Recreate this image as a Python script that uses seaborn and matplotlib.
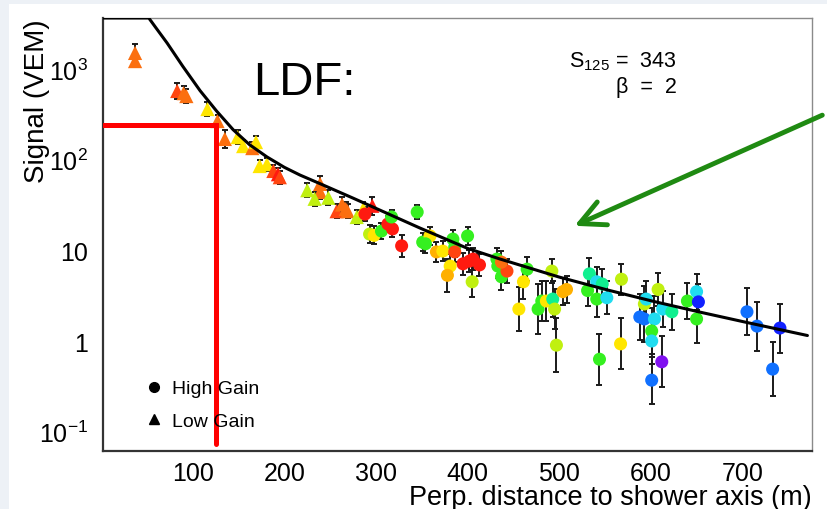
import numpy as np
import pandas as pd
import seaborn as sns
import matplotlib.pyplot as plt
from matplotlib.ticker import FixedLocator, MultipleLocator, LogLocator, NullFormatter
from matplotlib.lines import Line2D
from matplotlib.patches import Rectangle

# fitted LDF (clipped at the top of the frame)
curve_r = [2, 52, 60, 72, 89, 108, 126, 144, 162, 181, 200, 217, 240, 275, 300, 348,
           400, 435, 500, 552, 602, 653, 705, 771]
curve_s = [3640, 3640, 2818, 1928, 1072, 575, 343, 214, 146, 107, 82.2, 67.6, 53.7, 37.6,
           29.0, 17.6, 10.5, 8.04, 5.07, 3.67, 2.75, 2.09, 1.60, 1.15]

# low gain stations (triangles); err = half length of the error bar in decades
lg_r = [37, 37, 83, 93, 90, 116, 127, 135, 149, 155, 165, 169, 173, 181, 188, 193, 195,
        225, 239, 239, 233, 248, 257, 263, 267, 269, 279, 286, 296]
lg_s = [1500, 1220, 571, 502, 540, 361, 266, 169, 177, 141, 134, 156, 85, 89, 75, 69, 64,
        46, 54, 44, 37, 38, 27, 32, 28.5, 27, 23.3, 28.5, 31]
lg_err = [0.10, 0.06, 0.09, 0.08, 0.08, 0.08, 0.07, 0.10, 0.08, 0.07, 0.07, 0.07, 0.07, 0.07,
          0.07, 0.07, 0.07, 0.08, 0.09, 0.08, 0.08, 0.08, 0.08, 0.08, 0.08, 0.08, 0.08, 0.08, 0.10]
lg_col = ['orange', 'orange', 'redorange', 'orange', 'orange', 'yellow', 'orange', 'orange',
          'yellow', 'yellow', 'orange', 'yellow', 'yellow', 'yellow', 'redorange', 'red',
          'redorange', 'ygreen', 'orange', 'orange', 'ygreen', 'ygreen', 'redorange', 'orange',
          'orange', 'orange', 'ygreen', 'yellow', 'red']

# high gain stations (circles)
hg_r = [288, 293, 298, 306, 313, 318, 317, 328, 345, 351, 359, 354, 366, 373, 384, 386, 386,
        400, 395, 402, 406, 413, 381, 378, 405, 432, 433, 437, 443, 437, 465, 461, 456, 492,
        477, 481, 486, 493, 495, 497, 504, 508, 533, 531, 541, 541, 547, 552, 568, 544, 567,
        588, 593, 604, 593, 595, 601, 601, 601, 612, 608, 613, 623, 640, 650, 652, 650, 705,
        716, 741, 733]
hg_s = [25.1, 15.1, 14.6, 16.3, 19.5, 17.2, 23.3, 11.2, 26.4, 12.3, 14.4, 11.8, 9.6, 9.8, 13.3,
        10.9, 9.6, 14.4, 7.1, 7.6, 8.0, 6.9, 6.7, 5.3, 4.5, 8.0, 6.7, 5.1, 5.9, 7.4, 6.2, 4.5,
        2.25, 5.9, 2.25, 2.76, 2.76, 2.9, 2.25, 0.90, 3.5, 3.7, 5.5, 3.6, 2.9, 4.5, 4.25, 3.0,
        4.8, 0.63, 0.93, 1.84, 1.75, 1.75, 2.56, 2.9, 1.29, 1.0, 0.37, 0.59, 3.7, 2.25, 2.1,
        2.76, 3.5, 2.7, 1.75, 2.1, 1.46, 1.39, 0.49]
hg_err = [0.08, 0.10, 0.10, 0.09, 0.09, 0.09, 0.08, 0.12, 0.08, 0.10, 0.10, 0.10, 0.11, 0.11,
          0.10, 0.11, 0.11, 0.10, 0.12, 0.12, 0.12, 0.12, 0.13, 0.18, 0.17, 0.12, 0.13, 0.14,
          0.13, 0.12, 0.13, 0.19, 0.24, 0.13, 0.28, 0.22, 0.22, 0.20, 0.22, 0.30, 0.15, 0.15,
          0.17, 0.17, 0.20, 0.16, 0.17, 0.18, 0.17, 0.28, 0.28, 0.25, 0.25, 0.25, 0.20, 0.20,
          0.25, 0.25, 0.26, 0.28, 0.18, 0.20, 0.20, 0.20, 0.20, 0.20, 0.26, 0.26, 0.27, 0.27, 0.30]
hg_col = ['red', 'ygreen', 'yellow', 'green', 'red', 'red', 'green', 'red', 'green', 'green',
          'yellow', 'green', 'amber', 'yellow', 'green', 'green', 'redorange', 'green', 'red',
          'red', 'red', 'red', 'yellow', 'amber', 'ygreen', 'green', 'green', 'green',
          'redorange', 'orange', 'green', 'yellow', 'yellow', 'ygreen', 'green', 'green',
          'yellow', 'teal', 'ygreen', 'ygreen', 'amber', 'amber', 'teal', 'green', 'green',
          'cyan', 'teal', 'cyan', 'ygreen', 'green', 'yellow', 'blue', 'blue', 'cyan', 'ygreen',
          'cyan', 'green', 'cyan', 'blue', 'purple', 'ygreen', 'cyan', 'teal', 'green', 'cyan',
          'dblue', 'green', 'blue', 'blue', 'dblue', 'blue']

x_ticks = [100, 200, 300, 400, 500, 600, 700]
y_ticks = [0.1, 1, 10, 100, 1000]
y_ticklabels = ['10$^{-1}$', '1', '10', '10$^{2}$', '10$^{3}$']

palette = {'orange': '#fb6f10', 'redorange': '#ff4510', 'red': '#ff1a10', 'amber': '#ffb000',
           'yellow': '#ffe600', 'ygreen': '#c0f010', 'green': '#35f020', 'teal': '#10f090',
           'cyan': '#20dcf0', 'blue': '#1070ff', 'dblue': '#1020ff', 'purple': '#8010f0'}

sns.set_style('white')
plt.rcParams['font.family'] = ['Liberation Sans', 'DejaVu Sans']
plt.rcParams['mathtext.fontset'] = 'custom'
plt.rcParams['mathtext.rm'] = 'Liberation Sans'
plt.rcParams['mathtext.it'] = 'Liberation Sans:italic'
plt.rcParams['text.color'] = 'black'
plt.rcParams['axes.labelcolor'] = 'black'

lg = pd.DataFrame({'r': lg_r, 'S': lg_s, 'err': lg_err, 'col': lg_col})
hg = pd.DataFrame({'r': hg_r, 'S': hg_s, 'err': hg_err, 'col': hg_col})

fig = plt.figure(figsize=(8.28, 5.10), dpi=100, facecolor='#edf1f6')
fig.patches.append(Rectangle((9 / 828, 0), 1, 1 - 5 / 510, transform=fig.transFigure,
                             facecolor='white', edgecolor='none', zorder=-10))
ax = fig.add_axes([103 / 828, 58 / 510, 709 / 828, 433 / 510])
ax.set_yscale('log')

for d in (lg, hg):
    lo = d['S'] - d['S'] / 10 ** d['err']
    hi = d['S'] * 10 ** d['err'] - d['S']
    ax.errorbar(d['r'], d['S'], yerr=[lo, hi], fmt='none', ecolor='#1a1a1a',
                elinewidth=1.4, capsize=2.5, capthick=1.4, zorder=2)

sns.scatterplot(data=lg, x='r', y='S', hue='col', palette=palette, marker='^', s=105,
                linewidth=0, legend=False, ax=ax, zorder=3)
sns.scatterplot(data=hg, x='r', y='S', hue='col', palette=palette, marker='o', s=88,
                linewidth=0, legend=False, ax=ax, zorder=3)

ax.plot(curve_r, curve_s, color='black', lw=2.2, zorder=4)

# red guide lines at r = 125 m
ax.plot([2, 125, 125], [240, 240, 0.073], color='#ff0000', lw=3.6, zorder=5,
        solid_joinstyle='miter')

ax.set_xlim(2, 776)
ax.set_ylim(0.0613, 3640)
ax.xaxis.set_major_locator(FixedLocator(x_ticks))
ax.xaxis.set_minor_locator(MultipleLocator(20))
ax.set_yticks(y_ticks)
ax.set_yticklabels(y_ticklabels)
ax.yaxis.set_minor_locator(LogLocator(base=10, subs=range(2, 10)))
ax.yaxis.set_minor_formatter(NullFormatter())
ax.tick_params(which='both', direction='in', top=False, right=False, width=1, color='#333333',
               labelsize=18, labelcolor='black')
ax.tick_params(axis='x', which='major', length=9.5, pad=7)
ax.tick_params(axis='x', which='minor', length=5)
ax.tick_params(axis='y', which='major', length=13, pad=11)
ax.tick_params(axis='y', which='minor', length=7)

for side in ('left', 'bottom'):
    ax.spines[side].set_linewidth(1.6)
    ax.spines[side].set_color('#333333')
for side in ('top', 'right'):
    ax.spines[side].set_linewidth(1.0)
    ax.spines[side].set_color('#8a8a8a')

ax.set_xlabel('Perp. distance to shower axis (m)', fontsize=19.5, loc='right', labelpad=-0.5)
ax.set_ylabel('Signal (VEM)', fontsize=20, loc='top')
ax.yaxis.set_label_coords(-0.075, 1.0)

ax.text(0.2116, 0.8245, 'LDF:', transform=ax.transAxes, fontsize=34, va='baseline')
ax.text(0.8096, 0.889, 'S$_{125}$ =  343', transform=ax.transAxes, fontsize=15.5,
        ha='right', va='baseline')
ax.text(0.8096, 0.829, '\u03b2  =  2', transform=ax.transAxes, fontsize=15.5,
        ha='right', va='baseline')

ax.annotate('', xy=(514, 18.1), xytext=(790, 318), annotation_clip=False,
            arrowprops=dict(arrowstyle='->, head_length=0.9, head_width=0.45',
                            mutation_scale=20, color='#1f8a12', lw=3.5, clip_on=False))

handles = [Line2D([], [], marker='o', color='black', ls='none', markersize=7),
           Line2D([], [], marker='^', color='black', ls='none', markersize=7)]
ax.legend(handles, ['High Gain', 'Low Gain'], loc='center left',
          bbox_to_anchor=(0.058, 0.107), frameon=False, fontsize=14, handlelength=1,
          handletextpad=0.45, labelspacing=0.75, borderpad=0, borderaxespad=0)

fig.savefig('out.png', dpi=100, facecolor=fig.get_facecolor())
